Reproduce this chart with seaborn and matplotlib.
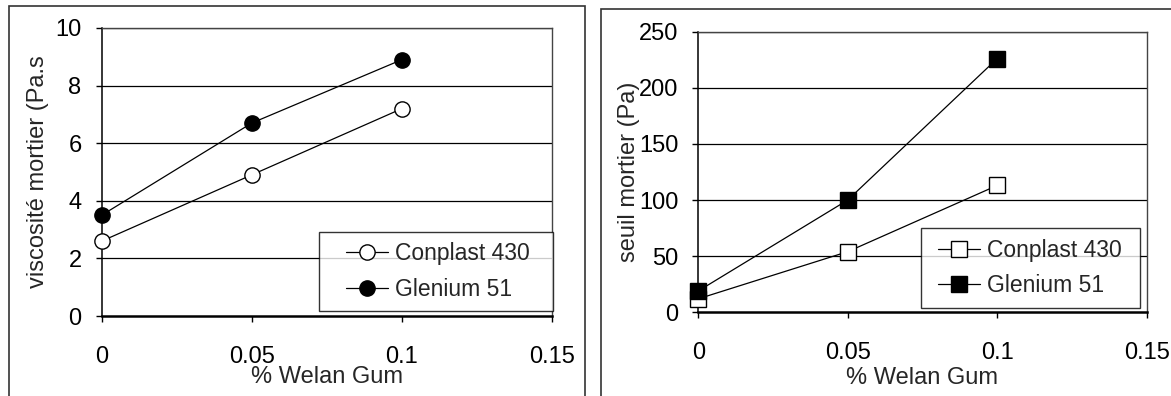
import pandas as pd
import matplotlib.pyplot as plt
import matplotlib.patches as mpatches
from matplotlib.lines import Line2D
from matplotlib.legend_handler import HandlerLine2D
import seaborn as sns

# data
welan_pct = [0, 0.05, 0.1]
series_names = ['Conplast 430', 'Glenium 51']
visc_conplast = [2.6, 4.9, 7.2]
visc_glenium = [3.5, 6.7, 8.9]
seuil_conplast = [12, 54, 113]
seuil_glenium = [19, 100, 226]

sns.set_style('white')
plt.rcParams['font.family'] = ['Liberation Sans', 'DejaVu Sans']
plt.rcParams['font.size'] = 17

fig = plt.figure(figsize=(11.71, 3.96), dpi=100)

# outer chart borders (Excel style)
fig.add_artist(mpatches.Rectangle((9 / 1171, -0.1), (585 - 9) / 1171, 1.1 - 6 / 396,
                                  transform=fig.transFigure, fill=False,
                                  edgecolor='#333333', linewidth=1.2))
fig.add_artist(mpatches.Rectangle((601 / 1171, -0.1), 0.5, 1.1 - 9 / 396,
                                  transform=fig.transFigure, fill=False,
                                  edgecolor='#333333', linewidth=1.2))

ax1 = fig.add_axes([0.08685, 0.2020, 0.3845, 0.7273])
ax2 = fig.add_axes([0.5963, 0.2114, 0.3829, 0.7086])


def draw_panel(ax, y_open, y_filled, marker, ylim, yticks, ylabel, ypad, leg_box, hpad):
    df = pd.DataFrame({'x': welan_pct * 2,
                       'y': y_open + y_filled,
                       'serie': [series_names[0]] * 3 + [series_names[1]] * 3})
    for name, face in zip(series_names, ['white', 'black']):
        sns.lineplot(data=df[df['serie'] == name], x='x', y='y', ax=ax,
                     color='black', linewidth=0.9, marker=marker, markersize=11,
                     markerfacecolor=face, markeredgecolor='black',
                     markeredgewidth=1.0, label=name, clip_on=False, zorder=5)
    ax.set_xlim(0, 0.15)
    ax.set_ylim(*ylim)
    ax.set_xticks([0, 0.05, 0.1, 0.15])
    ax.set_xticklabels(['0', '0.05', '0.1', '0.15'])
    ax.set_yticks(yticks)
    ax.set_yticklabels([str(t) for t in yticks])
    for t in yticks[1:]:
        ax.axhline(t, color='black', linewidth=0.9, zorder=1)
    ax.tick_params(axis='x', direction='out', length=4.3, width=1, pad=17,
                   labelsize=17, bottom=True, colors='black')
    ax.tick_params(axis='y', direction='out', length=4.5, width=1, pad=ypad,
                   labelsize=17, left=True, colors='black')
    for side in ['top', 'right']:
        ax.spines[side].set_color('#444444')
        ax.spines[side].set_linewidth(1.0)
    ax.spines['left'].set_color('black')
    ax.spines['left'].set_linewidth(1.1)
    ax.spines['bottom'].set_color('black')
    ax.spines['bottom'].set_linewidth(1.8)
    ax.set_xlabel('% Welan Gum', fontsize=17)
    ax.set_ylabel(ylabel, fontsize=17)
    leg = ax.legend(loc='lower left', bbox_to_anchor=leg_box, mode='expand',
                    fontsize=16.5, frameon=True, fancybox=False, edgecolor='black',
                    handlelength=1.85 + hpad, handletextpad=0.3, labelspacing=0.55,
                    borderpad=0.45, borderaxespad=0,
                    handler_map={Line2D: HandlerLine2D(xpad=hpad)})
    leg.get_frame().set_linewidth(1.0)
    leg.set_zorder(10)


draw_panel(ax1, visc_conplast, visc_glenium, 'o', (0, 10), [0, 2, 4, 6, 8, 10],
           'viscosité mortier (Pa.s', 10, (0.4826, 0.0174, 0.5197, 0.2), 0.73)
draw_panel(ax2, seuil_conplast, seuil_glenium, 's', (0, 250), [0, 50, 100, 150, 200, 250],
           'seuil mortier (Pa)', 10, (0.4967, 0.0164, 0.4884, 0.2), 0.29)

ax1.xaxis.set_label_coords(0.5, -0.174)
ax2.xaxis.set_label_coords(0.5, -0.194)
ax1.yaxis.set_label_coords(-0.117, 0.5)
ax2.yaxis.set_label_coords(-0.129, 0.5)

fig.savefig('out.png', dpi=100)
